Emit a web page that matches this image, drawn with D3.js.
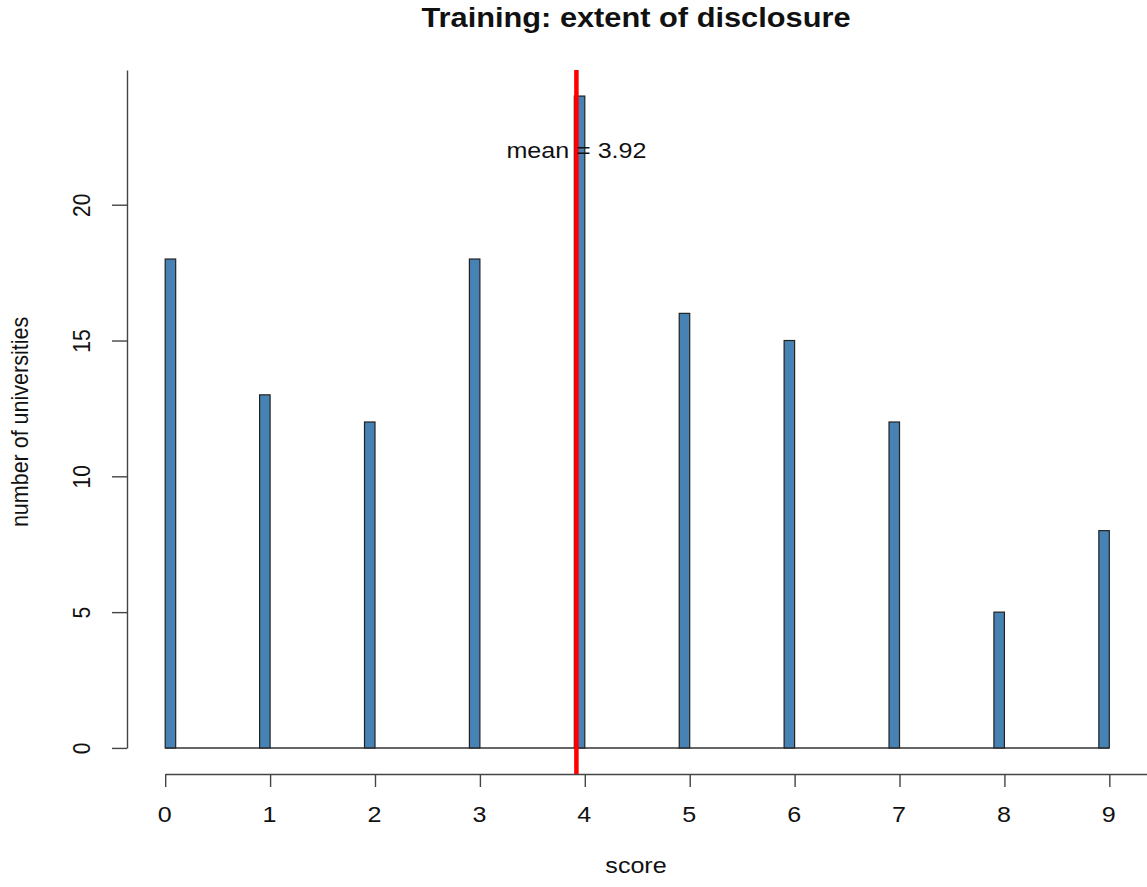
<!DOCTYPE html>
<html>
<head>
<meta charset="utf-8">
<title>Training: extent of disclosure</title>
<script src="https://d3js.org/d3.v7.min.js"></script>
<style>
  body { margin: 0; background: #fff; }
  svg { display: block; font-family: "Liberation Sans", Arial, sans-serif; }
  .axis path, .axis line { stroke: #444; stroke-width: 1.4px; }
  .axis text { fill: #111; }
  .bar { fill: #4682b4; stroke: #222; stroke-width: 1.2px; }
</style>
</head>
<body>
<svg width="1147" height="887"></svg>
<script>
// data
var scores = [0, 1, 2, 3, 4, 5, 6, 7, 8, 9];
var counts = [18, 13, 12, 18, 24, 16, 15, 12, 5, 8];
var yTicks = [0, 5, 10, 15, 20];
var meanScore = 3.92;
var binWidth = 0.1;

var svg = d3.select("svg");
var stretch = 1.14; // picture is a little wider than tall

// plot region (R style: limits widened by 4%)
var x = d3.scaleLinear().domain([-0.364, 9.464]).range([127, 1158]);
var y = d3.scaleLinear().domain([-0.96, 24.96]).range([774, 70]);

var g = svg.append("g");

// empty bins make a flat line along zero
g.append("line")
    .attr("x1", x(0)).attr("x2", x(scores[scores.length - 1]))
    .attr("y1", y(0)).attr("y2", y(0))
    .style("stroke", "#333").style("stroke-width", 1.4);

// each integer score falls in bin (k-0.1, k], first bin is [0, 0.1]
g.selectAll("rect")
    .data(scores)
    .enter().append("rect")
      .attr("class", "bar")
      .attr("x", function(d) { return d === 0 ? x(0) : x(d - binWidth); })
      .attr("width", x(binWidth) - x(0))
      .attr("y", function(d, i) { return y(counts[i]); })
      .attr("height", function(d, i) { return y(0) - y(counts[i]); });

// x axis
var xAxisScale = x.copy().domain([0, 10]).range([x(0), x(10)]);
var xAxis = g.append("g")
    .attr("class", "axis")
    .attr("transform", "translate(0," + y.range()[0] + ")")
    .call(d3.axisBottom(xAxisScale).tickValues(scores).tickSize(13).tickSizeOuter(0).tickPadding(0));
xAxis.selectAll("text").remove();
xAxis.selectAll(".tick").append("text")
    .attr("transform", "translate(-1,48) scale(" + stretch + ",1)")
    .attr("text-anchor", "middle")
    .style("font-size", "22px")
    .style("fill", "#111")
    .text(function(d) { return d; });

// y axis
var yAxisScale = y.copy().domain([0, y.domain()[1]]).range([y(0), y(y.domain()[1])]);
var yAxis = g.append("g")
    .attr("class", "axis")
    .attr("transform", "translate(" + x.range()[0] + ",0)")
    .call(d3.axisLeft(yAxisScale).tickValues(yTicks).tickSize(15).tickSizeOuter(0));
yAxis.selectAll("text").remove();
yAxis.selectAll(".tick").append("text")
    .attr("transform", "translate(-37,0) scale(" + stretch + ",1) rotate(-90)")
    .attr("text-anchor", "middle")
    .style("font-size", "21px")
    .style("fill", "#111")
    .text(function(d) { return d; });

// mean line
g.append("line")
    .attr("x1", x(meanScore)).attr("x2", x(meanScore))
    .attr("y1", y.range()[1]).attr("y2", y.range()[0])
    .style("stroke", "#ff0000").style("stroke-width", 4.5);

g.append("text")
    .attr("transform", "translate(" + x(meanScore) + "," + (y(22) + 8) + ") scale(" + stretch + ",1)")
    .attr("text-anchor", "middle")
    .style("font-size", "22px")
    .style("fill", "#111")
    .text("mean = " + meanScore);

// title and axis labels
svg.append("text")
    .attr("transform", "translate(636,27) scale(" + stretch + ",1)")
    .attr("text-anchor", "middle")
    .style("font-size", "27px")
    .style("font-weight", "bold")
    .style("fill", "#111")
    .text("Training: extent of disclosure");

svg.append("text")
    .attr("transform", "translate(636,873) scale(" + stretch + ",1)")
    .attr("text-anchor", "middle")
    .style("font-size", "22px")
    .style("fill", "#111")
    .text("score");

svg.append("text")
    .attr("transform", "translate(28,422) scale(" + stretch + ",1) rotate(-90)")
    .attr("text-anchor", "middle")
    .style("font-size", "21.5px")
    .style("fill", "#111")
    .text("number of universities");
</script>
</body>
</html>
